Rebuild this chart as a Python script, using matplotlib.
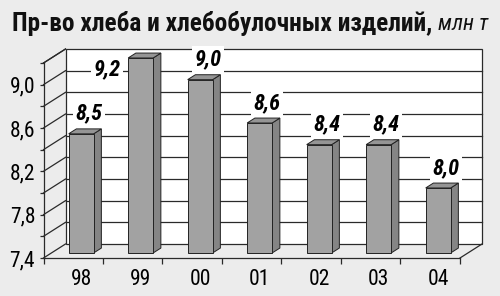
import numpy as np
import matplotlib
matplotlib.use("Agg")
import matplotlib.pyplot as plt
from matplotlib.patches import Polygon, Rectangle
from matplotlib import font_manager as fm
from matplotlib.font_manager import FontProperties

# ---- data ----
categories = ["98", "99", "00", "01", "02", "03", "04"]
values = [8.5, 9.2, 9.0, 8.6, 8.4, 8.4, 8.0]
ytick_values = [7.4, 7.6, 7.8, 8.0, 8.2, 8.4, 8.6, 8.8, 9.0, 9.2]
ytick_labels = ["7,4", "", "7,8", "", "8,2", "", "8,6", "", "9,0", ""]
title_main = "Пр-во хлеба и хлебобулочных изделий,"
title_unit = "млн т"


# ---- fonts: prefer a condensed sans face if one is installed ----
def _is_cond(f):
    st = str(f.stretch).lower()
    return (("narrow" in f.name.lower()) or ("condensed" in f.name.lower())
            or ("condensed" in st)) and ("mono" not in f.name.lower()) \
        and ("serif" not in f.name.lower() or "sans" in f.name.lower())


cond = [f for f in fm.fontManager.ttflist if _is_cond(f) and f.fname.lower().endswith((".ttf", ".otf"))]
pref = ["Liberation Sans Narrow", "Arial Narrow", "Roboto Condensed", "DejaVu Sans"]
fam_entries = None
for p in pref:
    ent = [f for f in cond if f.name == p or f.name.startswith(p)]
    if ent:
        fam_entries = ent
        break
if fam_entries is None and cond:
    fam_entries = [f for f in cond if f.name == cond[0].name]


def fp(bold=False, italic=False, size=12):
    if fam_entries:
        def score(f):
            w = f.weight if isinstance(f.weight, (int, float)) else (700 if "bold" in str(f.weight) else 400)
            s = 0 if (f.style != "normal") == italic else 1000
            return s + abs(w - (700 if bold else 400))
        best = min(fam_entries, key=score)
        return FontProperties(fname=best.fname, size=size)
    return FontProperties(family=["Liberation Sans", "DejaVu Sans"],
                          weight="bold" if bold else "normal",
                          style="italic" if italic else "normal", size=size * 0.88)


# ---- style ----
BG = "#ececec"
LINE = "#2a2a2a"
FRONT = "#a2a2a2"
SIDE = "#858585"
TOP = "#959595"

W, H = 500, 296
fig = plt.figure(figsize=(W / 100, H / 100), dpi=100, facecolor=BG)
L, R, B, T = 43.5, 460.0, 258.0, 63.0
ax = fig.add_axes([L / W, (H - B) / H, (R - L) / W, (B - T) / H])
ax.set_facecolor("none")
YMIN, YMAX = 7.4, 9.2
ax.set_xlim(-0.5, 6.5)
ax.set_ylim(YMIN, YMAX)

px_x = (R - L) / 7.0
px_y = (B - T) / (YMAX - YMIN)
DX = 22 / px_x
DY = 14 / px_y

# back wall
ax.add_patch(Rectangle((-0.5 + DX, YMIN + DY), 7, YMAX - YMIN,
                       facecolor="white", edgecolor=LINE, lw=0.9,
                       zorder=0.5, clip_on=False))
for yv in ytick_values[1:-1]:
    ax.plot([-0.5 + DX, 6.5 + DX], [yv + DY, yv + DY], color=LINE, lw=0.9,
            zorder=1, clip_on=False)
for yv in ytick_values:
    ax.plot([-0.5, -0.5 + DX], [yv, yv + DY], color=LINE, lw=0.9,
            zorder=1, clip_on=False)
ax.plot([6.5, 6.5 + DX], [YMIN, YMIN + DY], color=LINE, lw=0.9,
        zorder=1, clip_on=False)

# bars
f, g, bw = 0.36, 0.35, 0.42
vmax = max(values)
for i, v in enumerate(values):
    x0 = i - bw / 2 + f * DX
    x1 = x0 + bw
    b = YMIN + f * DY
    t = v + f * DY
    ax.add_patch(Polygon([(x1, b), (x1 + g * DX, b + g * DY), (x1 + g * DX, t + g * DY), (x1, t)],
                         closed=True, facecolor=SIDE, edgecolor="#222222", lw=0.7,
                         zorder=3, clip_on=False))
    ax.add_patch(Polygon([(x0, t), (x1, t), (x1 + g * DX, t + g * DY), (x0 + g * DX, t + g * DY)],
                         closed=True, facecolor=TOP, edgecolor="#222222", lw=0.7,
                         zorder=3, clip_on=False))
    ax.bar(i + f * DX, v - YMIN, bottom=b, width=bw, color=FRONT,
           edgecolor="#222222", lw=0.7, zorder=3.2, clip_on=False)
    off = (-34, -11) if v >= vmax else (7.5, 20)
    ax.annotate(f"{v:.1f}".replace(".", ","), xy=(i + f * DX, t),
                xytext=(off[0] * 0.72, off[1] * 0.72), textcoords="offset points",
                ha="center", va="center", fontproperties=fp(True, True, 16),
                color="black", zorder=6, annotation_clip=False,
                bbox=dict(boxstyle="square,pad=0.12", fc="white", ec="none"))

# spines / ticks
for s in ["top", "right"]:
    ax.spines[s].set_visible(False)
for s in ["left", "bottom"]:
    ax.spines[s].set_color(LINE)
    ax.spines[s].set_linewidth(0.9)
    ax.spines[s].set_zorder(2)
ax.set_yticks(ytick_values)
ax.set_yticklabels(ytick_labels, fontproperties=fp(False, False, 15.5))
ax.tick_params(axis="y", direction="out", length=3, width=0.9, color=LINE, pad=3)
ax.set_xticks(np.arange(-0.5, 7.0, 1.0))
ax.set_xticklabels([])
ax.tick_params(axis="x", which="major", direction="out", length=4, width=0.9, color=LINE)
ax.set_xticks(np.arange(len(categories)) + f * DX, minor=True)
ax.set_xticklabels(categories, minor=True, fontproperties=fp(False, False, 15.5))
ax.tick_params(axis="x", which="minor", length=0, pad=8)
ax.plot([-0.5, -0.5 + DX], [YMAX, YMAX + DY], color=LINE, lw=0.9, zorder=1, clip_on=False)

# title
tt = fig.text(12 / W, 1 - 30.5 / H, title_main, fontproperties=fp(True, False, 18.3),
              ha="left", va="baseline", color="#111111")
ax.annotate(title_unit, xy=(1, 0), xycoords=tt, xytext=(4, 0),
            textcoords="offset points", ha="left", va="bottom",
            fontproperties=fp(False, True, 16), color="#111111", annotation_clip=False)

fig.savefig("out.png", dpi=100, facecolor=BG)
